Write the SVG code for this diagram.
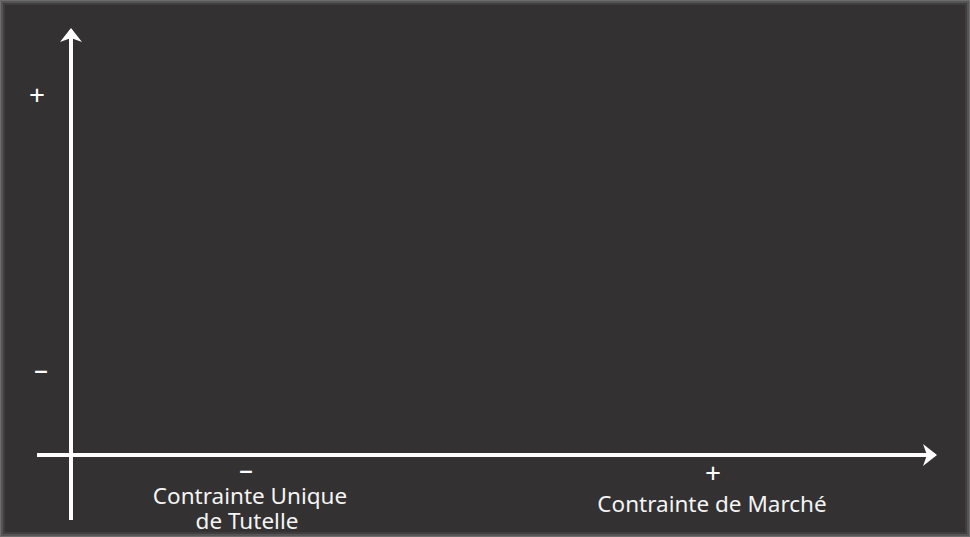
<svg xmlns="http://www.w3.org/2000/svg" width="970" height="537" viewBox="0 0 970 537">
<style>
.lbl{font-family:"Noto Sans","Open Sans",sans-serif;font-size:22.5px;fill:#f4f4f4;text-anchor:middle}
.sign{font-family:"Noto Sans","Open Sans",sans-serif;font-size:28px;fill:#ffffff;text-anchor:middle}
.axis{stroke:#ffffff;stroke-width:4;fill:none}
</style>
<defs>
<marker id="arr" viewBox="0 0 14 22" refX="12" refY="11" markerWidth="14" markerHeight="22" markerUnits="userSpaceOnUse" orient="auto">
<path d="M0,0 L14,11 L0,22 L4,11 Z" fill="#ffffff"/>
</marker>
</defs>
<rect x="0" y="0" width="970" height="537" fill="#6e6e6e"/>
<rect x="1" y="1" width="968" height="535" fill="#555555"/>
<rect x="3" y="3" width="964" height="531" fill="#3f3d3e"/>
<rect x="5" y="5" width="960" height="527" fill="#333132"/>
<g id="connectors">
<line class="axis" x1="71" y1="520" x2="71" y2="30" marker-end="url(#arr)"/>
<line class="axis" x1="37" y1="455" x2="935" y2="455" marker-end="url(#arr)"/>
</g>
<g id="y-plus"><text class="sign" x="37" y="105">+</text></g>
<g id="y-minus"><text class="sign" x="41" y="379">–</text></g>
<g id="x-minus">
<text class="sign" x="246" y="479">–</text>
<text class="lbl"><tspan x="250" y="504">Contrainte Unique</tspan><tspan x="247" y="529">de Tutelle</tspan></text>
</g>
<g id="x-plus">
<text class="sign" x="713" y="483">+</text>
<text class="lbl" x="712" y="512">Contrainte de Marché</text>
</g>
</svg>
